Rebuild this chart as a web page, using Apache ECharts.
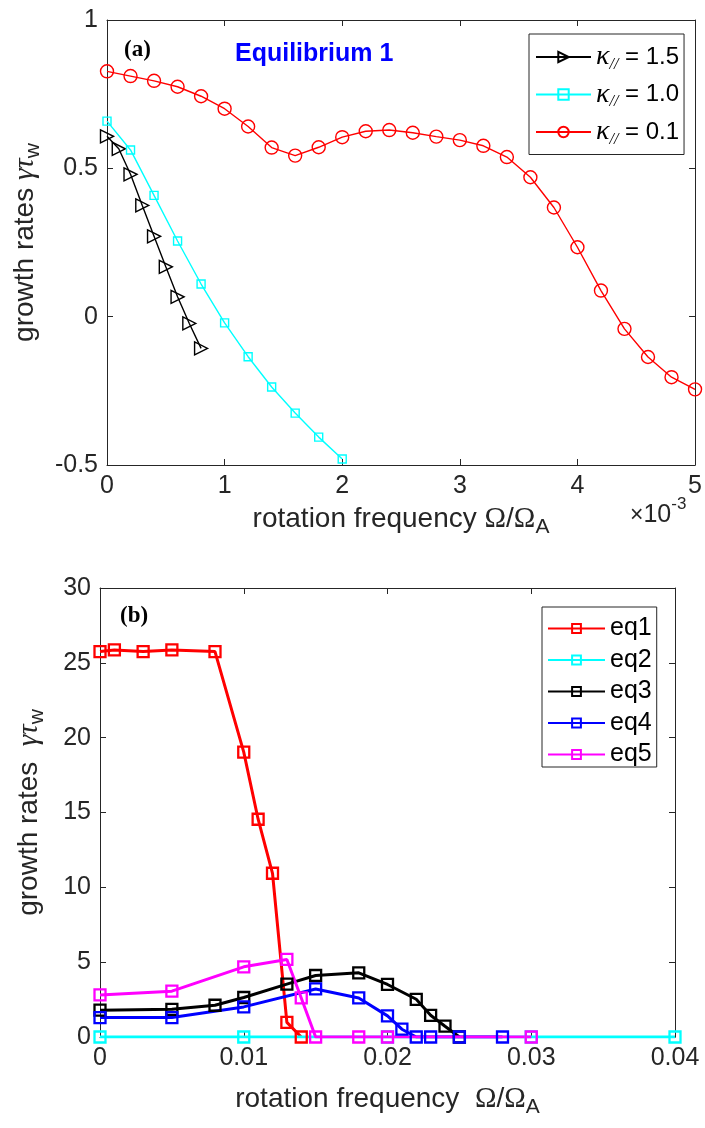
<!DOCTYPE html>
<html><head><meta charset="utf-8">
<script src="https://cdn.jsdelivr.net/npm/echarts@6/dist/echarts.min.js"></script>
<style>html,body{margin:0;padding:0;background:#fff}#c{width:705px;height:1128px}</style>
</head><body><div id="c"></div><script>
// ---- Panel (a): x in units of 1e-3 ----
const k15X = [0, 0.1, 0.2, 0.3, 0.4, 0.5, 0.6, 0.7, 0.8];
const k15Y = [0.608, 0.566, 0.480, 0.375, 0.271, 0.168, 0.067, -0.023, -0.107];
const k10X = [0, 0.2, 0.4, 0.6, 0.8, 1.0, 1.2, 1.4, 1.6, 1.8, 2.0];
const k10Y = [0.659, 0.562, 0.409, 0.255, 0.110, -0.021, -0.135, -0.237, -0.325, -0.406, -0.480];
const k01X = [0, 0.2, 0.4, 0.6, 0.8, 1.0, 1.2, 1.4, 1.6, 1.8, 2.0, 2.2, 2.4, 2.6, 2.8, 3.0, 3.2, 3.4, 3.6, 3.8, 4.0, 4.2, 4.4, 4.6, 4.8, 5.0];
const k01Y = [0.827, 0.811, 0.795, 0.775, 0.743, 0.701, 0.641, 0.570, 0.543, 0.571, 0.605, 0.625, 0.629, 0.620, 0.607, 0.595, 0.576, 0.538, 0.470, 0.368, 0.234, 0.088, -0.041, -0.136, -0.204, -0.245];
const legendA = ['1.5', '1.0', '0.1'];
const xTicksA = [0, 1, 2, 3, 4, 5];
const yTicksA = [-0.5, 0, 0.5, 1];

// ---- Panel (b) ----
const eq1X = [0, 0.001, 0.003, 0.005, 0.008, 0.010, 0.011, 0.012, 0.013, 0.014];
const eq1Y = [25.75, 25.86, 25.75, 25.86, 25.75, 19.03, 14.55, 10.94, 0.98, 0];
const eq2X = [0, 0.01, 0.02, 0.03, 0.04];
const eq2Y = [0, 0, 0, 0, 0];
const eq3X = [0, 0.005, 0.008, 0.010, 0.013, 0.015, 0.018, 0.020, 0.022, 0.023, 0.024, 0.025];
const eq3Y = [1.79, 1.85, 2.12, 2.64, 3.53, 4.11, 4.29, 3.51, 2.52, 1.45, 0.72, 0];
const eq4X = [0, 0.005, 0.010, 0.015, 0.018, 0.020, 0.021, 0.022, 0.023, 0.025, 0.028];
const eq4Y = [1.30, 1.30, 2.01, 3.21, 2.61, 1.41, 0.52, 0, 0, 0, 0];
const eq5X = [0, 0.005, 0.010, 0.013, 0.014, 0.015, 0.018, 0.020, 0.030];
const eq5Y = [2.81, 3.06, 4.69, 5.18, 2.61, 0, 0, 0, 0];
const namesB = ['eq1', 'eq2', 'eq3', 'eq4', 'eq5'];
const xTicksB = [0, 0.01, 0.02, 0.03, 0.04];
const yTicksB = [0, 5, 10, 15, 20, 25, 30];

const zip = (xs, ys) => xs.map((x, i) => [x, ys[i]]);
const AX = '#262626';
const SANS = 'Liberation Sans';
const SERIF = 'Liberation Serif';

function baseAxis(grid, min, max, interval, pos, showLabel, fmt) {
  return {
    type: 'value', gridIndex: grid, min, max, interval, position: pos,
    axisLine: { show: true, onZero: false, lineStyle: { color: AX, width: 1 } },
    axisTick: { show: true, inside: true, length: 6, lineStyle: { color: AX } },
    axisLabel: { show: showLabel, fontSize: 25, fontFamily: SANS, color: AX, margin: 9, formatter: fmt },
    splitLine: { show: false }
  };
}
const nameRich = {
  o: { fontFamily: SERIF, fontSize: 29, color: AX },
  g: { fontFamily: SERIF, fontStyle: 'italic', fontSize: 29, color: AX },
  s: { fontFamily: SANS, fontSize: 21, color: AX, padding: [17, 0, 0, 0] }
};
const nameStyle = { fontSize: 28, fontFamily: SANS, color: AX, rich: nameRich };

const xa0 = baseAxis(0, xTicksA[0], xTicksA[xTicksA.length - 1], 1, 'bottom', true, v => String(v));
Object.assign(xa0, { name: 'rotation frequency {o|Ω}/{o|Ω}{s|A}', nameLocation: 'middle', nameGap: 35, nameTextStyle: nameStyle });
const xa1 = baseAxis(0, xTicksA[0], xTicksA[xTicksA.length - 1], 1, 'top', false);
const ya0 = baseAxis(0, yTicksA[0], yTicksA[yTicksA.length - 1], 0.5, 'left', true, v => String(v));
Object.assign(ya0, { name: 'growth rates {g|γτ}{s|w}', nameLocation: 'middle', nameGap: 56, nameTextStyle: nameStyle });
const ya1 = baseAxis(0, yTicksA[0], yTicksA[yTicksA.length - 1], 0.5, 'right', false);

const xb0 = baseAxis(1, xTicksB[0], xTicksB[xTicksB.length - 1], 0.01, 'bottom', true, v => String(+v.toFixed(2)));
Object.assign(xb0, { name: 'rotation frequency  {o|Ω}/{o|Ω}{s|A}', nameLocation: 'middle', nameGap: 43, nameTextStyle: nameStyle });
const xb1 = baseAxis(1, xTicksB[0], xTicksB[xTicksB.length - 1], 0.01, 'top', false);
const yb0 = baseAxis(1, yTicksB[0], yTicksB[yTicksB.length - 1], 5, 'left', true, v => String(v));
Object.assign(yb0, { name: 'growth rates  {g|γτ}{s|w}', nameLocation: 'middle', nameGap: 52, nameTextStyle: nameStyle });
const yb1 = baseAxis(1, yTicksB[0], yTicksB[yTicksB.length - 1], 5, 'right', false);

function lineA(name, xs, ys, color, symbol, size, rot) {
  return {
    type: 'line', name, xAxisIndex: 0, yAxisIndex: 0, data: zip(xs, ys),
    symbol, symbolSize: size, symbolRotate: rot || 0, showAllSymbol: true,
    lineStyle: { color, width: 1.4 },
    itemStyle: { color: 'rgba(255,255,255,0)', borderColor: color, borderWidth: 1.4 },
    emphasis: { disabled: true }, animation: false, z: 3
  };
}
function lineB(name, xs, ys, color) {
  return {
    type: 'line', name, xAxisIndex: 2, yAxisIndex: 2, data: zip(xs, ys),
    symbol: 'rect', symbolSize: 11, showAllSymbol: true,
    lineStyle: { color, width: 3 },
    itemStyle: { color: 'rgba(255,255,255,0)', borderColor: color, borderWidth: 2.3 },
    emphasis: { disabled: true }, animation: false, z: 3
  };
}
const colorsB = ['#FF0000', '#00FFFF', '#000000', '#0000FF', '#FF00FF'];
const dataB = [[eq1X, eq1Y], [eq2X, eq2Y], [eq3X, eq3Y], [eq4X, eq4Y], [eq5X, eq5Y]];

const option = {
  backgroundColor: '#fff',
  animation: false,
  grid: [
    { left: 107, top: 20, width: 591, height: 445 },
    { left: 100, top: 588, width: 575, height: 449 }
  ],
  xAxis: [xa0, xa1, xb0, xb1],
  yAxis: [ya0, ya1, yb0, yb1],
  legend: [
    {
      data: ['k15', 'k10', 'k01'], orient: 'vertical', left: 529, top: 34,
      itemWidth: 55, itemHeight: 13, itemGap: 8,
      padding: [9, 5, 7, 6], borderColor: AX, borderWidth: 1, backgroundColor: '#fff',
      formatter: n => '{k|κ}{s|//}{n| = ' + legendA[['k15', 'k10', 'k01'].indexOf(n)] + '}',
      textStyle: {
        fontSize: 24, fontFamily: SANS, color: '#000',
        rich: {
          k: { fontFamily: SERIF, fontStyle: 'italic', fontSize: 28, color: '#000' },
          s: { fontFamily: SERIF, fontStyle: 'italic', fontSize: 16, color: '#000', padding: [15, 0, 0, 0] },
          n: { fontFamily: SANS, fontSize: 24, color: '#000' }
        }
      },
      selectedMode: false
    },
    {
      data: namesB, orient: 'vertical', left: 542, top: 607,
      itemWidth: 57, itemHeight: 11, itemGap: 6.5,
      padding: [9, 5, 0, 5], borderColor: AX, borderWidth: 1, backgroundColor: '#fff',
      textStyle: { fontSize: 25, fontFamily: SANS, color: '#000', lineHeight: 23 },
      selectedMode: false
    }
  ],
  graphic: [
    { type: 'text', left: 124, top: 39, style: { text: '(a)', font: 'bold 23px "Liberation Serif"', fill: '#000' } },
    { type: 'text', left: 235, top: 42, style: { text: 'Equilibrium 1', font: 'bold 25px "Liberation Sans"', fill: '#0000FF' } },
    { type: 'text', left: 120, top: 605, style: { text: '(b)', font: 'bold 23px "Liberation Serif"', fill: '#000' } },
    { type: 'text', left: 630, top: 496, style: {
        text: '{x|×}{t|10}{p|-3}',
        rich: {
          x: { fontFamily: SANS, fontSize: 23, fill: AX, padding: [10, 0, 0, 0] },
          t: { fontFamily: SANS, fontSize: 25, fill: AX, padding: [10, 0, 0, 0] },
          p: { fontFamily: SANS, fontSize: 17, fill: AX, padding: [0, 0, 12, 0] }
        }
      } }
  ],
  series: [
    lineA('k15', k15X, k15Y, '#000000', 'triangle', 13, -90),
    lineA('k10', k10X, k10Y, '#00FFFF', 'rect', 8),
    lineA('k01', k01X, k01Y, '#FF0000', 'circle', 13)
  ].concat(namesB.map((n, i) => lineB(n, dataB[i][0], dataB[i][1], colorsB[i])))
};
const chart = echarts.init(document.getElementById('c'), null, { renderer: 'canvas' });
chart.setOption(option);
</script></body></html>
